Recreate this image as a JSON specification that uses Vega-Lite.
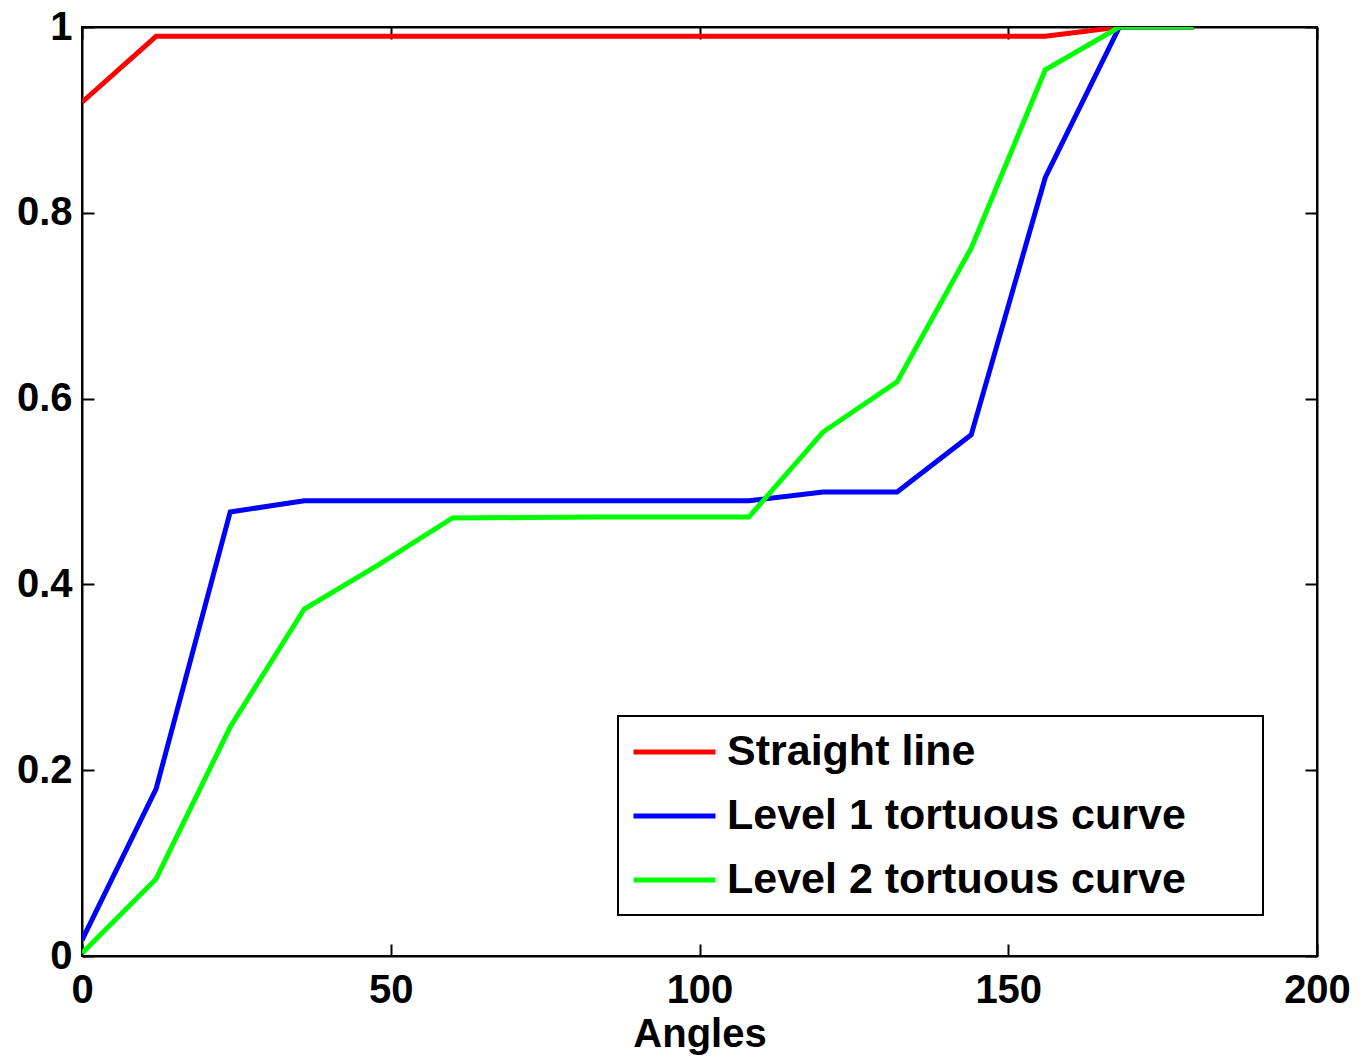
{
  "$schema": "https://vega.github.io/schema/vega-lite/v6.json",
  "width": 1235,
  "height": 929,
  "autosize": "none",
  "padding": {"left": 82, "top": 27, "right": 54, "bottom": 103},
  "background": "white",
  "config": {
    "view": {"stroke": "black", "strokeWidth": 2},
    "axis": {
      "domainColor": "black", "domainWidth": 2,
      "tickColor": "black", "tickWidth": 2, "tickSize": -12,
      "labelFont": "Liberation Sans", "labelFontWeight": "bold", "labelFontSize": 40, "labelColor": "black",
      "titleFont": "Liberation Sans", "titleFontWeight": "bold", "titleFontSize": 40, "titleColor": "black",
      "grid": false
    }
  },
  "data": {"values": [
    {"series": "Straight line", "angle": 0, "value": 0.919},
    {"series": "Straight line", "angle": 12, "value": 0.99},
    {"series": "Straight line", "angle": 24, "value": 0.99},
    {"series": "Straight line", "angle": 36, "value": 0.99},
    {"series": "Straight line", "angle": 48, "value": 0.99},
    {"series": "Straight line", "angle": 60, "value": 0.99},
    {"series": "Straight line", "angle": 72, "value": 0.99},
    {"series": "Straight line", "angle": 84, "value": 0.99},
    {"series": "Straight line", "angle": 96, "value": 0.99},
    {"series": "Straight line", "angle": 108, "value": 0.99},
    {"series": "Straight line", "angle": 120, "value": 0.99},
    {"series": "Straight line", "angle": 132, "value": 0.99},
    {"series": "Straight line", "angle": 144, "value": 0.99},
    {"series": "Straight line", "angle": 156, "value": 0.99},
    {"series": "Straight line", "angle": 168, "value": 1.0},
    {"series": "Straight line", "angle": 180, "value": 1.0},
    {"series": "Level 1 tortuous curve", "angle": 0, "value": 0.017},
    {"series": "Level 1 tortuous curve", "angle": 12, "value": 0.18},
    {"series": "Level 1 tortuous curve", "angle": 24, "value": 0.478},
    {"series": "Level 1 tortuous curve", "angle": 36, "value": 0.49},
    {"series": "Level 1 tortuous curve", "angle": 48, "value": 0.49},
    {"series": "Level 1 tortuous curve", "angle": 60, "value": 0.49},
    {"series": "Level 1 tortuous curve", "angle": 72, "value": 0.49},
    {"series": "Level 1 tortuous curve", "angle": 84, "value": 0.49},
    {"series": "Level 1 tortuous curve", "angle": 96, "value": 0.49},
    {"series": "Level 1 tortuous curve", "angle": 108, "value": 0.49},
    {"series": "Level 1 tortuous curve", "angle": 120, "value": 0.4995},
    {"series": "Level 1 tortuous curve", "angle": 132, "value": 0.4995},
    {"series": "Level 1 tortuous curve", "angle": 144, "value": 0.561},
    {"series": "Level 1 tortuous curve", "angle": 156, "value": 0.838},
    {"series": "Level 1 tortuous curve", "angle": 168, "value": 1.0},
    {"series": "Level 1 tortuous curve", "angle": 180, "value": 1.0},
    {"series": "Level 2 tortuous curve", "angle": 0, "value": 0.003},
    {"series": "Level 2 tortuous curve", "angle": 12, "value": 0.083},
    {"series": "Level 2 tortuous curve", "angle": 24, "value": 0.2465},
    {"series": "Level 2 tortuous curve", "angle": 36, "value": 0.3735},
    {"series": "Level 2 tortuous curve", "angle": 48, "value": 0.421},
    {"series": "Level 2 tortuous curve", "angle": 60, "value": 0.4715},
    {"series": "Level 2 tortuous curve", "angle": 72, "value": 0.472},
    {"series": "Level 2 tortuous curve", "angle": 84, "value": 0.4725},
    {"series": "Level 2 tortuous curve", "angle": 96, "value": 0.4725},
    {"series": "Level 2 tortuous curve", "angle": 108, "value": 0.4725},
    {"series": "Level 2 tortuous curve", "angle": 120, "value": 0.564},
    {"series": "Level 2 tortuous curve", "angle": 132, "value": 0.618},
    {"series": "Level 2 tortuous curve", "angle": 144, "value": 0.762},
    {"series": "Level 2 tortuous curve", "angle": 156, "value": 0.954},
    {"series": "Level 2 tortuous curve", "angle": 168, "value": 1.0},
    {"series": "Level 2 tortuous curve", "angle": 180, "value": 1.0}
  ]},
  "resolve": {"axis": {"x": "independent", "y": "independent"}},
  "layer": [
    {
      "mark": {"type": "line", "strokeWidth": 5, "clip": true},
      "encoding": {
        "x": {"field": "angle", "type": "quantitative",
              "scale": {"domain": [0, 200], "nice": false, "zero": false},
              "axis": {"orient": "bottom", "values": [0, 50, 100, 150, 200], "title": "Angles", "labelPadding": 26, "titlePadding": 4, "labelFlush": false}},
        "y": {"field": "value", "type": "quantitative",
              "scale": {"domain": [0, 1], "nice": false},
              "axis": {"orient": "left", "values": [0, 0.2, 0.4, 0.6, 0.8, 1], "format": "~g", "title": null, "labelPadding": 22, "labelFlush": false}},
        "color": {"field": "series", "type": "nominal",
                  "scale": {"domain": ["Straight line", "Level 1 tortuous curve", "Level 2 tortuous curve"], "range": ["#ff0000", "#0000ff", "#00ff00"]},
                  "legend": {
                    "title": null,
                    "orient": "none", "legendX": 536, "legendY": 689,
                    "strokeColor": "black", "fillColor": "white",
                    "padding": 13, "rowPadding": 19,
                    "symbolType": "M-1,0H3", "symbolSize": 1681, "symbolStrokeWidth": 5,
                    "labelFont": "Liberation Sans", "labelFontWeight": "bold", "labelFontSize": 43, "labelColor": "black",
                    "labelOffset": 50, "labelLimit": 800,
                    "labelExpr": "datum.label + '\u2800\u2800'",
                    "encode": {
                      "legend": {"update": {"strokeWidth": {"value": 2}}}
                    }
                  }}
      }
    },
    {
      "mark": {"type": "point", "opacity": 0},
      "encoding": {
        "x": {"field": "angle", "type": "quantitative",
              "axis": {"orient": "top", "values": [0, 50, 100, 150, 200], "labels": false, "title": null}},
        "y": {"field": "value", "type": "quantitative",
              "axis": {"orient": "right", "values": [0, 0.2, 0.4, 0.6, 0.8, 1], "labels": false, "title": null}}
      }
    }
  ]
}
